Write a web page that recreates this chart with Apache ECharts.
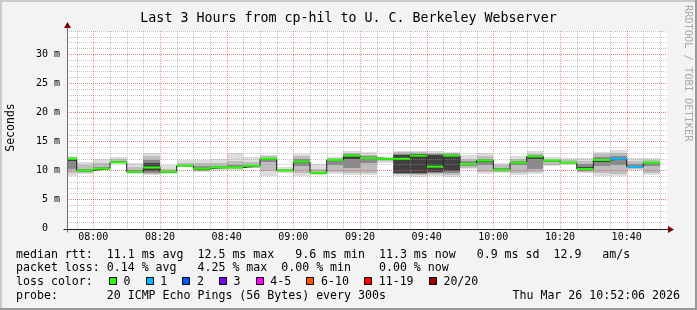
<!DOCTYPE html>
<html><head><meta charset="utf-8">
<script src="https://cdn.jsdelivr.net/npm/echarts@6/dist/echarts.min.js"></script>
<style>html,body{margin:0;padding:0;background:#f3f3f3}#c{width:697px;height:310px}</style>
</head><body><div id="c"></div>
<script>
// ---- data ----
const startTime = '07:52:06';
const endTime = '10:52:06';
const barEnds = ['07:55','08:00','08:05','08:10','08:15','08:20','08:25','08:30','08:35','08:40','08:45','08:50',
  '08:55','09:00','09:05','09:10','09:15','09:20','09:25','09:30','09:35','09:40','09:45','09:50',
  '09:55','10:00','10:05','10:10','10:15','10:20','10:25','10:30','10:35','10:40','10:45','10:50'];
const median = [12.0,10.0,10.3,11.4,9.75,10.5,9.75,10.8,10.3,10.5,10.5,10.8,
  12.0,10.0,11.5,9.6,11.8,12.55,12.15,12.0,12.0,12.55,10.65,12.55,
  11.1,11.7,10.1,11.35,12.4,11.7,11.35,10.25,11.8,12.0,10.6,11.35];
const lossLevel = [0,0,0,0,0,0,0,0,0,0,0,0, 0,0,0,0,0,0,0,0,0,0,0,0, 0,0,0,0,0,0,0,0,0,1,1,0];
// smoke bands (ms): outer -> inner
const band1Lo = [9.1,9.3,10.0,11.1,9.4,9.2,9.3,10.6,9.8,10.1,10.0,10.4, 9.05,9.6,9.05,9.2,9.4,9.2,9.2,11.35,9.05,8.95,9.05,8.95, 10.2,9.35,9.5,9.2,9.4,10.8,10.95,9.5,9.05,9.05,10.1,9.2];
const band1Hi = [12.55,11.5,12.0,12.3,11.3,13.0,10.9,11.75,11.75,12.0,13.0,12.3, 12.7,10.6,12.9,11.1,12.3,13.35,13.25,12.3,13.35,13.35,13.35,13.25, 12.7,13.0,11.25,12.55,13.35,12.25,12.2,12.1,13.25,13.5,12.1,12.2];
const band2Lo = [9.5,9.6,10.1,11.2,9.5,9.4,9.5,10.65,9.9,10.2,10.2,10.5, 9.9,9.7,9.5,9.35,9.8,9.6,9.6,11.6,9.3,9.2,9.3,9.2, 10.5,9.7,9.7,9.6,9.7,11.0,11.1,9.7,9.5,9.4,10.3,9.6];
const band2Hi = [12.35,10.9,11.3,11.9,10.6,12.4,10.3,11.3,11.2,11.3,11.7,11.4, 12.45,10.3,12.4,10.3,12.1,13.0,12.7,12.15,13.1,13.1,13.0,13.0, 12.0,12.4,10.9,12.0,12.9,12.0,11.8,11.6,12.8,13.0,11.6,11.8];
const band3Lo = [10.3,9.8,10.2,11.3,9.6,9.6,9.6,10.7,10.0,10.35,10.35,10.6, 11.4,9.85,10.8,9.45,11.0,10.5,11.2,11.8,9.4,9.4,9.5,9.5, 10.8,11.0,9.9,10.9,10.2,11.4,11.25,9.9,10.8,11.0,10.45,10.8];
const band3Hi = [12.15,10.25,10.6,11.6,10.1,11.8,9.95,11.0,10.8,10.8,10.9,11.0, 12.2,10.1,12.0,9.8,11.95,12.8,12.4,12.05,12.9,12.9,12.8,12.8, 11.6,12.0,10.5,11.6,12.6,11.85,11.5,11.1,12.3,12.5,11.1,11.5];
const band4Lo = [11.6,9.9,10.25,11.35,9.7,9.9,9.7,10.75,10.15,10.4,10.45,10.7, 11.85,9.95,11.3,9.55,11.6,11.9,11.9,11.9,9.6,9.6,9.7,9.9, 10.95,11.5,10.0,11.25,11.9,11.6,11.3,10.1,11.5,11.8,10.55,11.2];
const band4Hi = [12.05,10.05,10.4,11.45,9.85,11.2,9.8,10.85,10.45,10.6,10.6,10.9, 12.1,10.05,11.7,9.7,11.85,12.65,12.25,12.02,12.7,12.75,12.6,12.7, 11.3,11.8,10.25,11.45,12.5,11.75,11.4,10.6,12.0,12.1,10.8,11.45];
const xTickLabels = ['08:00','08:20','08:40','09:00','09:20','09:40','10:00','10:20','10:40'];
const yMajorTicks = [0,5,10,15,20,25,30];
const lossLabels = ['0','1','2','3','4-5','6-10','11-19','20/20'];
const lossColors = ['#26ff00','#00b8ff','#0059ff','#7e00ff','#ff00ff','#ff5500','#ff0000','#a10000'];
const textLines = [
  'median rtt:  11.1 ms avg  12.5 ms max   9.6 ms min  11.3 ms now   0.9 ms sd  12.9   am/s',
  'packet loss: 0.14 % avg   4.25 % max  0.00 % min    0.00 % now',
  'loss color:',
  'probe:       20 ICMP Echo Pings (56 Bytes) every 300s'
];
const titleText = 'Last 3 Hours from cp-hil to U. C. Berkeley Webserver';
const dateText = 'Thu Mar 26 10:52:06 2026';
const yMax = 34;
const stepMin = 5;

// ---- helpers ----
const toMin = s => { const p = s.split(':').map(Number); return (p[0]-7)*60 + p[1] + (p[2]||0)/60; };
const xMin = toMin(startTime), xMax = toMin(endTime);
const ends = barEnds.map(toMin);
const starts = ends.map(e => Math.max(e - stepMin, xMin));
const majorMins = xTickLabels.map(toMin);
const MONO = '"DejaVu Sans Mono", monospace';

function bandSeries(lo, hi, color) {
  return {
    type: 'custom', z: 1, silent: true, animation: false, clip: true,
    data: ends.map((e, i) => [starts[i], e, lo[i], hi[i]]),
    encode: { x: [0, 1], y: [2, 3] },
    renderItem: (params, api) => {
      const a = api.coord([api.value(0), api.value(3)]);
      const b = api.coord([api.value(1), api.value(2)]);
      const x0 = Math.round(a[0]), x1 = Math.round(b[0]);
      const y0 = Math.round(a[1]), y1 = Math.round(b[1]);
      return { type: 'rect', shape: { x: x0, y: y0, width: x1 - x0, height: Math.max(1, y1 - y0) }, style: { fill: color } };
    }
  };
}

const stepData = starts.map((s, i) => [s, median[i]]);
stepData.push([ends[ends.length - 1], median[median.length - 1]]);

const option = {
  backgroundColor: '#f3f3f3',
  animation: false,
  grid: { left: 67, right: 30, top: 31, bottom: 81.5, show: true, backgroundColor: '#ffffff', borderWidth: 0 },
  xAxis: {
    type: 'value', min: xMin, max: xMax,
    axisLine: { show: false }, axisTick: { show: false }, splitLine: { show: false },
    axisLabel: {
      customValues: majorMins,
      formatter: v => { const i = majorMins.findIndex(m => Math.abs(m - v) < 1e-6); return i >= 0 ? xTickLabels[i] : ''; },
      fontFamily: MONO, fontSize: 10, color: '#000', margin: 4
    }
  },
  yAxis: [
    { type: 'value', min: 0, max: yMax, interval: 1, z: 3,
      axisLine: { show: false }, axisTick: { show: false }, axisLabel: { show: false },
      splitLine: { show: true, showMinLine: false, lineStyle: { color: 'rgba(150,150,150,0.55)', width: 1, type: [1, 1] } } },
    { type: 'value', min: 0, max: yMax, interval: 5, position: 'left', z: 4,
      axisLine: { show: false }, axisTick: { show: false },
      axisLabel: { fontFamily: MONO, fontSize: 10, color: '#000', margin: 7, showMaxLabel: false,
        formatter: v => yMajorTicks.indexOf(v) < 0 ? '' : (v === 0 ? '0  ' : v + ' m') },
      splitLine: { show: true, showMinLine: false, showMaxLine: false, lineStyle: { color: 'rgba(225,70,70,0.55)', width: 1, type: [1, 1] } } }
  ],
  series: [
    bandSeries(band1Lo, band1Hi, '#dddddd'),
    bandSeries(band2Lo, band2Hi, '#bdbdbd'),
    bandSeries(band3Lo, band3Hi, '#8a8a8a'),
    bandSeries(band4Lo, band4Hi, '#404040'),
    { // vertical grid lines
      type: 'custom', z: 3.5, silent: true, animation: false,
      data: ends.map(e => [e]),
      encode: { x: 0 },
      renderItem: (params, api) => {
        const v = api.value(0);
        const major = majorMins.some(m => Math.abs(m - v) < 1e-6);
        const x = Math.round(api.coord([v, 0])[0]) + 0.5;
        const yb = api.coord([v, 0])[1], yt = api.coord([v, yMax])[1];
        return { type: 'line', shape: { x1: x, y1: yt, x2: x, y2: yb },
          style: { stroke: major ? 'rgba(225,70,70,0.55)' : 'rgba(150,150,150,0.55)', lineWidth: 1, lineDash: [1, 1] } };
      }
    },
    { // median black step line
      type: 'line', step: 'end', z: 5, silent: true, animation: false, symbol: 'none',
      data: stepData, lineStyle: { color: '#202020', width: 1 }
    },
    { // colored median segments
      type: 'custom', z: 6, silent: true, animation: false,
      data: ends.map((e, i) => [starts[i], e, median[i], lossLevel[i]]),
      encode: { x: [0, 1], y: 2 },
      renderItem: (params, api) => {
        const a = api.coord([api.value(0), api.value(2)]);
        const b = api.coord([api.value(1), api.value(2)]);
        return { type: 'line', shape: { x1: Math.round(a[0]), y1: a[1], x2: Math.round(b[0]), y2: b[1] },
          style: { stroke: lossColors[api.value(3)], lineWidth: 2 } };
      }
    }
  ]
};

const chart = echarts.init(document.getElementById('c'), null, { renderer: 'canvas' });
chart.setOption(option);

// decorations positioned from the axes
const o = chart.convertToPixel({ gridIndex: 0 }, [xMin, 0]);
const tr = chart.convertToPixel({ gridIndex: 0 }, [xMax, yMax]);
const ox = Math.round(o[0]) + 0.5, oy = Math.round(o[1]) + 0.5;
const rx = Math.round(tr[0]), ty = Math.round(tr[1]);
const g = [];
// frame
g.push({ type: 'rect', shape: { x: 0, y: 0, width: 697, height: 2 }, style: { fill: '#cbcbcb' }, silent: true });
g.push({ type: 'rect', shape: { x: 0, y: 0, width: 2, height: 310 }, style: { fill: '#cbcbcb' }, silent: true });
g.push({ type: 'rect', shape: { x: 0, y: 308, width: 697, height: 2 }, style: { fill: '#999999' }, silent: true });
g.push({ type: 'rect', shape: { x: 695, y: 0, width: 2, height: 310 }, style: { fill: '#999999' }, silent: true });
// axes
g.push({ type: 'line', z: 10, shape: { x1: ox, y1: oy + 3, x2: ox, y2: ty - 4 }, style: { stroke: '#6a6a6a', lineWidth: 1 }, silent: true });
g.push({ type: 'line', z: 10, shape: { x1: ox - 4, y1: oy, x2: rx + 3, y2: oy }, style: { stroke: '#202020', lineWidth: 1 }, silent: true });
g.push({ type: 'polygon', z: 11, shape: { points: [[ox - 3.5, ty - 3], [ox + 3.5, ty - 3], [ox, ty - 9]] }, style: { fill: '#7f0000' }, silent: true });
g.push({ type: 'polygon', z: 11, shape: { points: [[rx + 1, oy - 3.5], [rx + 1, oy + 3.5], [rx + 7, oy]] }, style: { fill: '#7f0000' }, silent: true });
// texts
g.push({ type: 'text', x: 348.5, y: 19, style: { text: titleText, font: '13.3px ' + MONO, fill: '#000', textAlign: 'center', textVerticalAlign: 'middle' } });
g.push({ type: 'text', x: 11, y: 127.5, rotation: Math.PI / 2, style: { text: 'Seconds', font: '11.5px ' + MONO, fill: '#000', textAlign: 'center', textVerticalAlign: 'middle' } });
g.push({ type: 'text', x: 688, y: 5, rotation: -Math.PI / 2, style: { text: 'RRDTOOL / TOBI OETIKER', font: '10.3px ' + MONO, fill: '#aaaaaa', textAlign: 'left', textVerticalAlign: 'middle' } });
const rowY = [254.7, 268.3, 282.3, 296];
textLines.forEach((t, i) => {
  g.push({ type: 'text', x: 16, y: rowY[i], style: { text: t, font: '11.6px ' + MONO, fill: '#000', textAlign: 'left', textVerticalAlign: 'middle' } });
});
g.push({ type: 'text', x: 680, y: rowY[3], style: { text: dateText, font: '11.6px ' + MONO, fill: '#000', textAlign: 'right', textVerticalAlign: 'middle' } });
let bx = 109;
lossLabels.forEach((lab, i) => {
  g.push({ type: 'rect', shape: { x: Math.round(bx) + 0.5, y: 277.5, width: 7, height: 7 }, style: { fill: lossColors[i], stroke: '#000', lineWidth: 1 } });
  g.push({ type: 'text', x: bx + 14.5, y: rowY[2], style: { text: lab, font: '11.6px ' + MONO, fill: '#000', textAlign: 'left', textVerticalAlign: 'middle' } });
  bx += 14.5 + lab.length * 7 + 15.2;
});
chart.setOption({ graphic: g });
</script>
</body></html>
